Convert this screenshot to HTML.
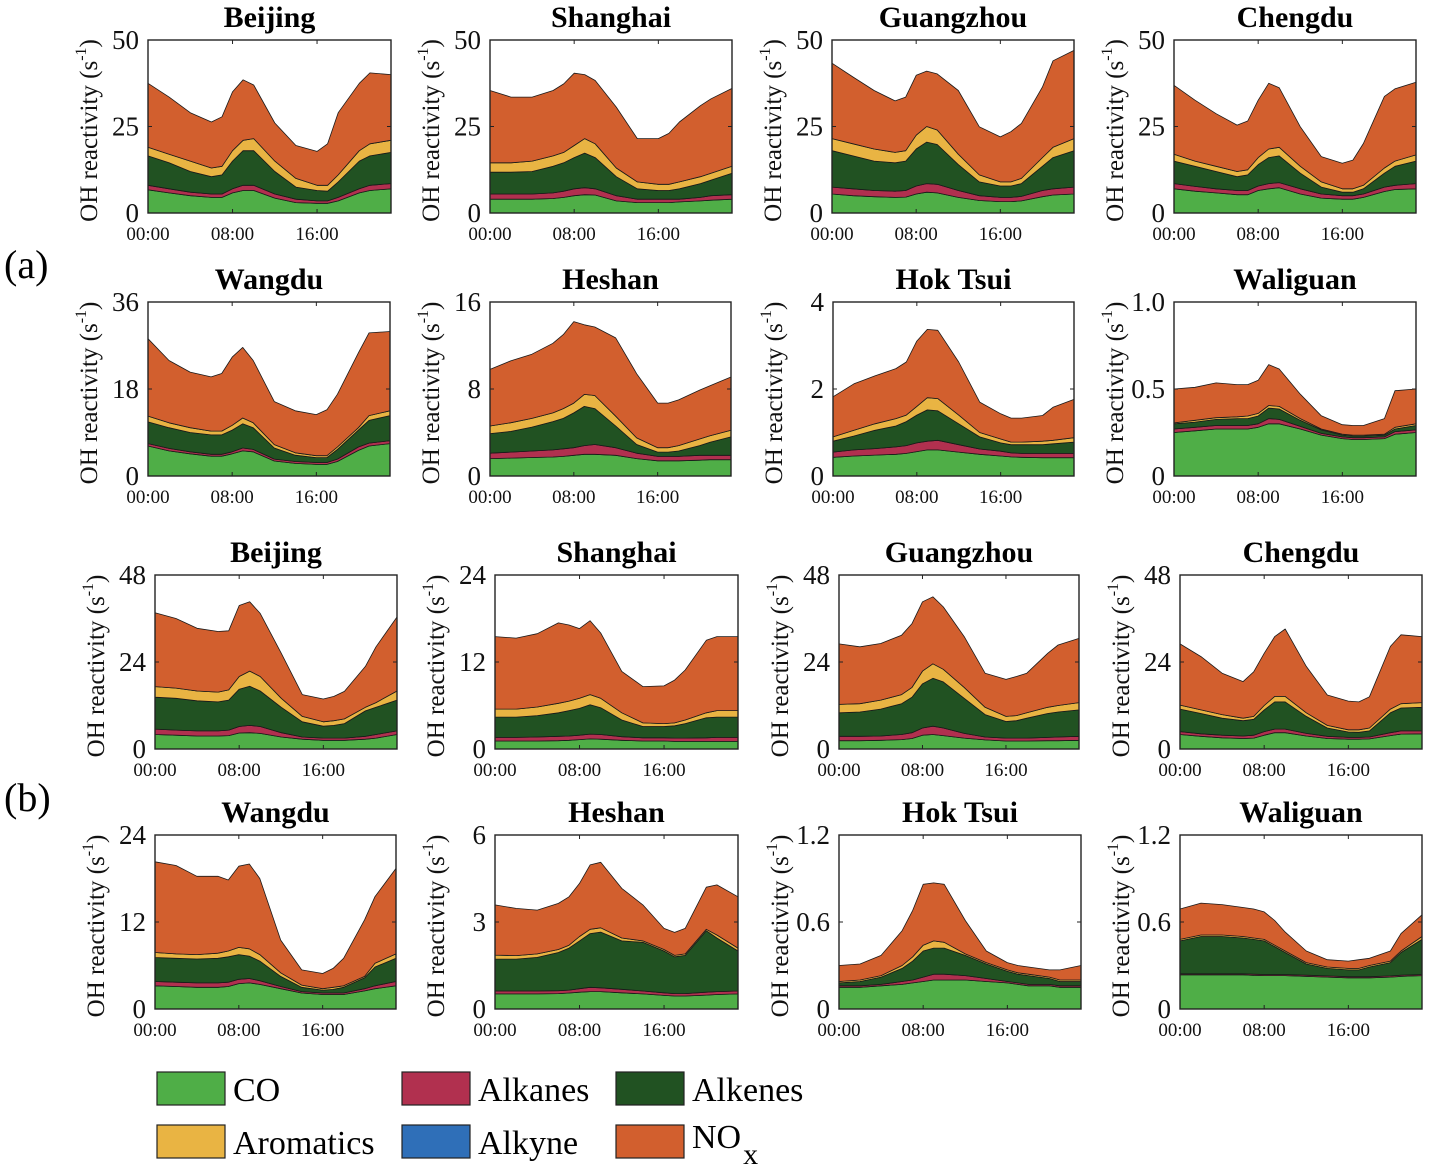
<!DOCTYPE html>
<html><head><meta charset="utf-8">
<style>
html,body{margin:0;padding:0;background:#fff;}
svg{display:block;font-family:"Liberation Serif","Times New Roman",serif;}
</style></head>
<body>
<svg id="fig" width="1432" height="1168" viewBox="0 0 1432 1168" xmlns="http://www.w3.org/2000/svg">
<rect x="0" y="0" width="1432" height="1168" fill="#fff"/>
<text x="4" y="278" font-size="40">(a)</text>
<text x="4" y="811" font-size="40">(b)</text>
<g id="legend">
<rect x="157" y="1072" width="68" height="33" fill="#4fae47" stroke="#222" stroke-width="1.2"/>
<text x="233" y="1101" font-size="34">CO</text>
<rect x="402" y="1072" width="68" height="33" fill="#b1304f" stroke="#222" stroke-width="1.2"/>
<text x="478" y="1101" font-size="34">Alkanes</text>
<rect x="616" y="1072" width="68" height="33" fill="#215222" stroke="#222" stroke-width="1.2"/>
<text x="692" y="1101" font-size="34">Alkenes</text>
<rect x="157" y="1125" width="68" height="33" fill="#e9b443" stroke="#222" stroke-width="1.2"/>
<text x="233" y="1154" font-size="34">Aromatics</text>
<rect x="402" y="1125" width="68" height="33" fill="#2f6fb8" stroke="#222" stroke-width="1.2"/>
<text x="478" y="1154" font-size="34">Alkyne</text>
<rect x="616" y="1125" width="68" height="33" fill="#d25f2e" stroke="#222" stroke-width="1.2"/>
<text x="692" y="1148" font-size="34">NO<tspan font-size="30" dx="2" dy="16">x</tspan></text>
</g>
</svg>
<script>
const hours = [0,2,4,6,7,8,9,10,12,14,16,17,18,20,21,23];
const xTickLabels = ["00:00","08:00","16:00"];
const xTickHours = [0,8,16];

const bjA_co   = [6.7,5.8,5,4.5,4.5,5.8,6.5,6.5,4.3,3,2.8,2.8,3.5,5.8,6.5,7];
const bjA_alk  = [8,7,6,5.5,5.5,7,8,8,5.5,4,3.5,3.5,4.5,7,8,8.5];
const bjA_ene  = [16.5,14.5,12,10.5,11,15,18,18,12,7.5,6.5,6.3,9,15,16.5,17.5];
const bjA_aro  = [19,17,15,13,13.5,18,21,21.5,15,10,8,8,11,18,20,21];
const bjA_tot  = [37.5,33.5,29,26.3,27.8,35,38.5,37,26,19.5,17.8,20,29,37.5,40.5,40];
const shA_co   = [4,4,4,4.2,4.5,5,5.3,5.2,3.5,3,3,3,3.2,3.5,3.7,4];
const shA_alk  = [5.5,5.5,5.5,5.8,6.3,7,7.3,7,5,4,4,4,4,4.5,5,5.3];
const shA_ene  = [11.8,11.8,12,13.5,14.5,16,17.3,16,10.5,7,6.5,6.5,7,8.5,9.5,11.5];
const shA_aro  = [14.5,14.5,15,16.5,17.5,19.5,21.5,20,13,9,8.3,8.3,9,10.5,11.5,13.5];
const shA_tot  = [35.4,33.5,33.5,35.4,37.3,40.4,40,38.3,30.6,21.5,21.5,23,26.3,31,33,36];
const gzA_co   = [5.5,5,4.7,4.5,4.6,5.5,6,5.8,4.5,3.6,3.3,3.3,3.5,4.7,5.2,5.5];
const gzA_alk  = [7.5,7,6.5,6.3,6.5,7.8,8.5,8.3,6.5,5,4.5,4.5,4.8,6.5,7,7.5];
const gzA_ene  = [18,16.5,15,14.5,15,18.5,20.5,19.8,14,9,7.8,7.8,8.5,13.5,16,18];
const gzA_aro  = [21.5,20,18.5,17.5,18,22.5,25,24,17,11,9,9,10,16,19,21.5];
const gzA_tot  = [43.3,39.3,35.4,32.4,33.5,39.8,41,40.2,35.4,24.9,22,23.5,25.9,36.4,44,47];
const cdA_co   = [7,6.3,5.8,5.3,5.3,6.5,7,7.3,5.5,4.3,4,4,4.5,6.2,6.8,7];
const cdA_alk  = [8.5,7.7,7,6.5,6.5,7.8,8.5,8.8,7,5.5,5,5,5.5,7.5,8,8.5];
const cdA_ene  = [15,13.5,12,10.5,11,14,16,16.5,11.5,7.5,6,6,7,11.5,13.5,15];
const cdA_aro  = [17,15,13.5,12,12.5,16,18.5,19,13.5,9,7,7,8,13,15,16.8];
const cdA_tot  = [36.9,32.6,28.7,25.4,26.6,32.6,37.5,36.2,24.9,16.3,14.4,15.3,20.1,33.7,35.9,37.8];
const wdA_co   = [6.2,5.2,4.6,4.1,4.1,4.6,5.2,5,3.1,2.6,2.4,2.4,3,5.3,6.2,6.7];
const wdA_alk  = [6.7,5.7,5,4.5,4.5,5,5.8,5.5,3.5,3,2.8,2.8,3.5,6,6.8,7.3];
const wdA_ene  = [11.2,10,9,8.5,8.5,9.5,10.8,10,5.8,4.3,3.8,3.8,5.5,9.5,11.5,12.5];
const wdA_aro  = [12.4,11,10,9.3,9.3,10.5,12,11,6.5,4.8,4.2,4.2,6,10,12.5,13.5];
const wdA_tot  = [28.4,23.9,21.5,20.5,21.2,24.6,26.6,23.9,15.4,13.5,12.7,13.7,16.9,25.5,29.6,29.9];
const hsA_co   = [1.6,1.65,1.7,1.75,1.8,1.9,2,2,1.9,1.6,1.4,1.4,1.4,1.45,1.5,1.5];
const hsA_alk  = [2.1,2.2,2.3,2.4,2.5,2.6,2.8,2.9,2.6,2.1,1.8,1.8,1.8,1.9,1.9,1.9];
const hsA_ene  = [3.9,4.1,4.5,5,5.3,5.8,6.4,6.2,4.6,2.9,2.2,2.2,2.3,2.8,3.1,3.6];
const hsA_aro  = [4.6,4.9,5.3,5.8,6.2,6.7,7.5,7.4,5.5,3.5,2.6,2.6,2.8,3.4,3.7,4.2];
const hsA_tot  = [9.8,10.6,11.2,12.2,13,14.2,13.9,13.7,12.7,9.4,6.7,6.7,7,7.9,8.3,9.1];
const htA_co   = [0.43,0.46,0.48,0.5,0.52,0.56,0.6,0.6,0.55,0.5,0.46,0.44,0.43,0.42,0.42,0.42];
const htA_alk  = [0.55,0.6,0.63,0.67,0.7,0.76,0.8,0.82,0.72,0.62,0.57,0.53,0.52,0.52,0.52,0.52];
const htA_ene  = [0.8,0.92,1.05,1.15,1.25,1.4,1.52,1.5,1.2,0.9,0.76,0.72,0.72,0.72,0.74,0.78];
const htA_aro  = [0.9,1.05,1.2,1.32,1.4,1.6,1.8,1.78,1.4,1.0,0.85,0.78,0.78,0.8,0.82,0.88];
const htA_tot  = [1.82,2.12,2.3,2.47,2.62,3.1,3.37,3.35,2.62,1.7,1.43,1.33,1.33,1.39,1.58,1.76];
const wgA_co   = [0.25,0.26,0.27,0.27,0.27,0.28,0.3,0.3,0.27,0.235,0.215,0.21,0.21,0.215,0.24,0.25];
const wgA_alk  = [0.27,0.28,0.29,0.29,0.29,0.3,0.33,0.325,0.285,0.245,0.225,0.22,0.22,0.225,0.255,0.265];
const wgA_ene  = [0.3,0.31,0.325,0.33,0.33,0.345,0.39,0.385,0.32,0.265,0.235,0.23,0.23,0.235,0.27,0.29];
const wgA_aro  = [0.305,0.32,0.335,0.34,0.345,0.36,0.405,0.4,0.33,0.27,0.24,0.235,0.235,0.24,0.28,0.3];
const wgA_tot  = [0.5,0.51,0.535,0.525,0.525,0.55,0.64,0.615,0.47,0.346,0.295,0.29,0.29,0.33,0.49,0.5];
const bjB_co   = [4,3.8,3.6,3.6,3.7,4.4,4.5,4.3,3.3,2.7,2.4,2.4,2.4,2.7,3,4];
const bjB_alk  = [5.5,5.2,5,5,5.2,6.2,6.5,6.2,4.5,3.3,3,3,3,3.5,4,5];
const bjB_ene  = [14.3,14,13.3,13,13.5,16.5,17.3,16,11.5,7.5,6.3,6.5,7,10.5,11.5,13.5];
const bjB_aro  = [17.2,16.8,16,15.7,16.3,20,21.5,20,14,9,7.5,7.8,8.3,11.5,12.8,16];
const bjB_tot  = [37.6,36,33.3,32.4,32.6,39.6,40.6,37.4,26.4,15,13.8,14.5,15.9,22.8,28.2,36.4];
const shB_co   = [1.1,1.1,1.1,1.15,1.2,1.3,1.4,1.35,1.2,1.1,1.1,1.05,1.05,1.05,1.05,1.05];
const shB_alk  = [1.6,1.6,1.65,1.75,1.8,1.9,2.05,2,1.7,1.55,1.55,1.5,1.5,1.55,1.6,1.6];
const shB_ene  = [4.4,4.4,4.6,5,5.3,5.6,6.1,5.7,4,3.1,3.1,3.2,3.5,4.3,4.4,4.4];
const shB_aro  = [5.5,5.5,5.8,6.3,6.6,7,7.5,7,5,3.6,3.5,3.6,4,5,5.3,5.3];
const shB_tot  = [15.5,15.3,15.9,17.4,17.1,16.6,17.7,16,10.7,8.6,8.7,9.5,10.9,15,15.5,15.5];
const gzB_co   = [2.3,2.3,2.4,2.6,2.9,3.8,4,3.7,3,2.5,2.2,2.2,2.2,2.3,2.3,2.4];
const gzB_alk  = [3.5,3.5,3.6,4,4.5,5.8,6.3,5.8,4.3,3.3,3,3,3,3.2,3.3,3.5];
const gzB_ene  = [10,10.2,11,12.5,14.3,18,19.5,18.5,14,9.5,7.6,7.8,8.5,9.8,10.2,10.8];
const gzB_aro  = [12.3,12.5,13.5,15,17,21.5,23.5,22,17,11.5,9,9.2,10,11.5,12,12.8];
const gzB_tot  = [29,28.2,29.1,31.4,34.6,40.6,42,39.2,31,20.9,19.2,20,20.9,26.4,28.7,30.5];
const cdB_co   = [4,3.5,3.1,2.9,3,3.8,4.5,4.5,3.6,2.9,2.7,2.7,2.8,3.7,4.1,4.2];
const cdB_alk  = [4.8,4.2,3.8,3.6,3.8,4.8,5.5,5.5,4.3,3.5,3.2,3.2,3.3,4.5,5,5];
const cdB_ene  = [11,9.8,8.5,7.8,8.2,10.8,13,13,9,5.8,4.7,4.6,5,10,11.3,11.5];
const cdB_aro  = [12.1,10.8,9.5,8.5,9,12,14.5,14.5,10,6.5,5.3,5.3,5.8,11,12.5,12.8];
const cdB_tot  = [29,25.5,20.9,18.6,21.3,26.4,31,33.1,22.8,14.9,13.2,13,14.4,28.3,31.5,31];
const wdB_co   = [3.2,3.1,3,3,3.1,3.5,3.6,3.4,2.8,2.2,2,2,2,2.5,2.8,3.2];
const wdB_alk  = [3.8,3.7,3.6,3.6,3.7,4.1,4.2,3.9,3.1,2.4,2.2,2.2,2.2,2.8,3.2,3.8];
const wdB_ene  = [7.1,7,6.9,7,7.2,7.5,7.3,6.6,4.5,3,2.6,2.7,3,4.3,5.8,7];
const wdB_aro  = [7.8,7.6,7.5,7.7,8,8.5,8.3,7.5,5,3.3,2.8,3,3.2,4.5,6.3,7.6];
const wdB_tot  = [20.3,19.8,18.3,18.3,17.8,19.7,20,18,9.5,5.4,4.9,5.6,7,12.3,15.5,19.4];
const hsB_co   = [0.52,0.52,0.52,0.53,0.55,0.58,0.6,0.6,0.56,0.52,0.47,0.45,0.45,0.48,0.5,0.52];
const hsB_alk  = [0.62,0.62,0.62,0.63,0.65,0.7,0.75,0.73,0.68,0.62,0.56,0.53,0.53,0.58,0.6,0.62];
const hsB_ene  = [1.72,1.72,1.78,1.95,2.1,2.35,2.6,2.65,2.35,2.3,2,1.8,1.85,2.7,2.45,2.0];
const hsB_aro  = [1.86,1.84,1.9,2.05,2.2,2.5,2.75,2.8,2.45,2.35,2.05,1.85,1.9,2.75,2.55,2.1];
const hsB_tot  = [3.59,3.47,3.41,3.64,3.87,4.33,4.97,5.06,4.16,3.59,2.78,2.64,2.78,4.2,4.28,3.87];
const htB_co   = [0.15,0.15,0.16,0.17,0.18,0.19,0.2,0.2,0.2,0.19,0.18,0.17,0.16,0.16,0.15,0.15];
const htB_alk  = [0.16,0.16,0.17,0.19,0.2,0.22,0.24,0.24,0.23,0.21,0.19,0.18,0.17,0.17,0.16,0.16];
const htB_ene  = [0.18,0.19,0.22,0.28,0.33,0.4,0.42,0.42,0.37,0.31,0.26,0.24,0.23,0.21,0.19,0.19];
const htB_aro  = [0.19,0.2,0.23,0.3,0.36,0.44,0.47,0.46,0.38,0.32,0.27,0.25,0.24,0.22,0.2,0.2];
const htB_tot  = [0.3,0.31,0.37,0.54,0.68,0.86,0.87,0.86,0.61,0.4,0.32,0.3,0.29,0.27,0.27,0.3];
const wgB_co   = [0.235,0.235,0.235,0.235,0.232,0.23,0.23,0.23,0.225,0.22,0.215,0.215,0.215,0.22,0.225,0.23];
const wgB_alk  = [0.243,0.243,0.243,0.243,0.24,0.238,0.238,0.238,0.233,0.228,0.223,0.223,0.223,0.228,0.233,0.238];
const wgB_ene  = [0.47,0.5,0.5,0.49,0.48,0.47,0.43,0.39,0.31,0.28,0.27,0.27,0.29,0.32,0.39,0.48];
const wgB_aro  = [0.48,0.51,0.51,0.5,0.49,0.48,0.44,0.4,0.32,0.29,0.28,0.28,0.3,0.33,0.4,0.5];
const wgB_tot  = [0.69,0.73,0.72,0.7,0.69,0.67,0.61,0.53,0.4,0.34,0.33,0.34,0.35,0.4,0.52,0.65];

const ytBJa = ["0","25","50"], ytSHa = ["0","25","50"], ytGZa = ["0","25","50"], ytCDa = ["0","25","50"];
const ytWDa = ["0","18","36"], ytHSa = ["0","8","16"], ytHTa = ["0","2","4"], ytWGa = ["0","0.5","1.0"];
const ytBJb = ["0","24","48"], ytSHb = ["0","12","24"], ytGZb = ["0","24","48"], ytCDb = ["0","24","48"];
const ytWDb = ["0","12","24"], ytHSb = ["0","3","6"], ytHTb = ["0","0.6","1.2"], ytWGb = ["0","0.6","1.2"];

const colors = ["#4fae47","#b1304f","#215222","#e9b443","#d25f2e"];
const layerNames = ["co","alkanes","alkenes","aromatics","nox"];

const panels = [
 {id:"beijing-a",title:"Beijing",L:148,R:391,T:40,B:213,ymax:50,yt:ytBJa,s:[bjA_co,bjA_alk,bjA_ene,bjA_aro,bjA_tot]},
 {id:"shanghai-a",title:"Shanghai",L:490,R:732,T:40,B:213,ymax:50,yt:ytSHa,s:[shA_co,shA_alk,shA_ene,shA_aro,shA_tot]},
 {id:"guangzhou-a",title:"Guangzhou",L:832,R:1074,T:40,B:213,ymax:50,yt:ytGZa,s:[gzA_co,gzA_alk,gzA_ene,gzA_aro,gzA_tot]},
 {id:"chengdu-a",title:"Chengdu",L:1174,R:1416,T:40,B:213,ymax:50,yt:ytCDa,s:[cdA_co,cdA_alk,cdA_ene,cdA_aro,cdA_tot]},
 {id:"wangdu-a",title:"Wangdu",L:148,R:390,T:302,B:476,ymax:36,yt:ytWDa,s:[wdA_co,wdA_alk,wdA_ene,wdA_aro,wdA_tot]},
 {id:"heshan-a",title:"Heshan",L:490,R:731,T:302,B:476,ymax:16,yt:ytHSa,s:[hsA_co,hsA_alk,hsA_ene,hsA_aro,hsA_tot]},
 {id:"hoktsui-a",title:"Hok Tsui",L:833,R:1074,T:302,B:476,ymax:4,yt:ytHTa,s:[htA_co,htA_alk,htA_ene,htA_aro,htA_tot]},
 {id:"waliguan-a",title:"Waliguan",L:1174,R:1416,T:302,B:476,ymax:1,yt:ytWGa,s:[wgA_co,wgA_alk,wgA_ene,wgA_aro,wgA_tot]},
 {id:"beijing-b",title:"Beijing",L:155,R:397,T:575,B:749,ymax:48,yt:ytBJb,s:[bjB_co,bjB_alk,bjB_ene,bjB_aro,bjB_tot]},
 {id:"shanghai-b",title:"Shanghai",L:495,R:738,T:575,B:749,ymax:24,yt:ytSHb,s:[shB_co,shB_alk,shB_ene,shB_aro,shB_tot]},
 {id:"guangzhou-b",title:"Guangzhou",L:839,R:1079,T:575,B:749,ymax:48,yt:ytGZb,s:[gzB_co,gzB_alk,gzB_ene,gzB_aro,gzB_tot]},
 {id:"chengdu-b",title:"Chengdu",L:1180,R:1422,T:575,B:749,ymax:48,yt:ytCDb,s:[cdB_co,cdB_alk,cdB_ene,cdB_aro,cdB_tot]},
 {id:"wangdu-b",title:"Wangdu",L:155,R:396,T:835,B:1009,ymax:24,yt:ytWDb,s:[wdB_co,wdB_alk,wdB_ene,wdB_aro,wdB_tot]},
 {id:"heshan-b",title:"Heshan",L:495,R:738,T:835,B:1009,ymax:6,yt:ytHSb,s:[hsB_co,hsB_alk,hsB_ene,hsB_aro,hsB_tot]},
 {id:"hoktsui-b",title:"Hok Tsui",L:839,R:1081,T:835,B:1009,ymax:1.2,yt:ytHTb,s:[htB_co,htB_alk,htB_ene,htB_aro,htB_tot]},
 {id:"waliguan-b",title:"Waliguan",L:1180,R:1422,T:835,B:1009,ymax:1.2,yt:ytWGb,s:[wgB_co,wgB_alk,wgB_ene,wgB_aro,wgB_tot]}
];

const NS = "http://www.w3.org/2000/svg";
const svg = document.getElementById("fig");
function mk(tag, attrs, parent){
  const e = document.createElementNS(NS, tag);
  for (const k in attrs) e.setAttribute(k, attrs[k]);
  (parent||svg).appendChild(e);
  return e;
}

panels.forEach(function(p){
  const xs = function(h){ return p.L + (p.R - p.L) * h / 23; };
  const ys = function(v){ return p.B - (p.B - p.T) * v / p.ymax; };
  const g = mk("g", {});
  
  

  for (let k = 0; k < 5; k++) {
    const top = p.s[k];
    const bot = k === 0 ? null : p.s[k-1];
    let d = "";
    hours.forEach(function(h, i){ d += (i ? "L" : "M") + xs(h).toFixed(1) + "," + ys(top[i]).toFixed(1); });
    for (let i = hours.length - 1; i >= 0; i--) {
      d += "L" + xs(hours[i]).toFixed(1) + "," + ys(bot ? bot[i] : 0).toFixed(1);
    }
    d += "Z";
    const a = mk("path", {d: d, fill: colors[k], stroke: "#1a1a1a", "stroke-width": "0.8", "stroke-linejoin": "round"}, g);
    
    
  }

  const box = mk("rect", {x: p.L, y: p.T, width: p.R - p.L, height: p.B - p.T, fill: "none", stroke: "#222", "stroke-width": "1.4"}, g);
  
  

  xTickHours.forEach(function(h, i){
    const x = xs(h);
    const t1 = mk("line", {x1: x, y1: p.B, x2: x, y2: p.B - 4, stroke: "#222", "stroke-width": "1"}, g);
    
    
    const t2 = mk("line", {x1: x, y1: p.T, x2: x, y2: p.T + 4, stroke: "#222", "stroke-width": "1"}, g);
    
    
    const lb = mk("text", {x: x, y: p.B + 27, "font-size": "19", "text-anchor": "middle", fill: "#111"}, g);
    lb.textContent = xTickLabels[i];
    
    
  });

  p.yt.forEach(function(lab, i){
    const v = p.ymax * i / 2;
    const y = ys(v);
    const t1 = mk("line", {x1: p.L, y1: y, x2: p.L + 4, y2: y, stroke: "#222", "stroke-width": "1"}, g);
    
    
    const t2 = mk("line", {x1: p.R, y1: y, x2: p.R - 4, y2: y, stroke: "#222", "stroke-width": "1"}, g);
    
    
    const lb = mk("text", {x: p.L - 9, y: y + 9, "font-size": "27", "text-anchor": "end", fill: "#111"}, g);
    lb.textContent = lab;
    
    
  });

  const cx = p.L - 51, cy = (p.T + p.B) / 2 + 4;
  const yt = mk("text", {x: cx, y: cy, "font-size": "25", "text-anchor": "middle", fill: "#111", transform: "rotate(-90 " + cx + " " + cy + ")"}, g);
  
  
  const s1 = mk("tspan", {}, yt); s1.textContent = "OH reactivity (s";
  const s2 = mk("tspan", {"font-size": "16", dy: "-11"}, yt); s2.textContent = "-1";
  const s3 = mk("tspan", {dy: "11"}, yt); s3.textContent = ")";

  const ti = mk("text", {x: (p.L + p.R) / 2, y: p.T - 13, "font-size": "30", "font-weight": "bold", "text-anchor": "middle", fill: "#000"}, g);
  ti.textContent = p.title;
  
  
});
</script>
</body></html>
